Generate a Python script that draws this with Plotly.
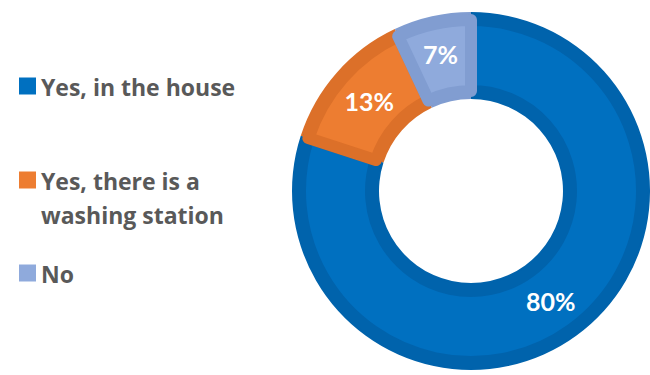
import plotly.graph_objects as go

# Survey answers and their shares (%)
categories = ["Yes, in the house", "Yes, there is a<br>washing station", "No"]
shares = [80, 13, 7]

fill_colors = ["#0070C0", "#ED7D31", "#8FAADC"]
edge_colors = ["#0063AC", "#DC7029", "#819DD1"]

W, H = 650, 375
cx, cy = 471, 191          # donut centre (px)
r_out, r_in = 179, 92      # outer / inner radius (px)
band = 8                   # width of the darker rim inside each slice


def dom(r):
    return dict(x=[(cx - r) / W, (cx + r) / W],
                y=[1 - (cy + r) / H, 1 - (cy - r) / H])


fig = go.Figure()

# darker rim layer
fig.add_trace(go.Pie(
    values=shares, labels=categories, sort=False, direction="clockwise",
    rotation=0, hole=r_in / r_out, domain=dom(r_out),
    marker=dict(colors=edge_colors, line=dict(width=0)),
    textinfo="none", hoverinfo="skip", showlegend=False,
))

# lighter inner fill layer with labels
r2 = r_out - band
fig.add_trace(go.Pie(
    values=shares, labels=categories, sort=False, direction="clockwise",
    rotation=0, hole=(r_in + band) / r2, domain=dom(r2),
    marker=dict(colors=fill_colors, line=dict(color=edge_colors, width=12)),
    texttemplate="%{value}%", textposition="inside",
    insidetextorientation="horizontal",
    textfont=dict(family="Lato", size=25, color="white", weight="bold"),
    hoverinfo="label+value", showlegend=False,
))

# legend drawn at the left: square swatch + bold grey text
legend_rows = [86, 180, 273]   # vertical centre of first text line (px)
line_gap = 34
shapes, annotations = [], []
for name, color, yc in zip(categories, fill_colors, legend_rows):
    shapes.append(dict(type="rect", xref="paper", yref="paper",
                       x0=19 / W, x1=36 / W,
                       y0=1 - (yc + 8.5) / H, y1=1 - (yc - 8.5) / H,
                       fillcolor=color, line=dict(width=0)))
    for i, line in enumerate(name.split("<br>")):
        annotations.append(dict(
            text=line, xref="paper", yref="paper",
            x=39 / W, y=1 - (yc + i * line_gap + 1) / H,
            xanchor="left", yanchor="middle", showarrow=False,
            font=dict(family="Open Sans", size=23, color="#595959", weight="bold"),
        ))

fig.update_layout(
    width=W, height=H, margin=dict(l=0, r=0, t=0, b=0),
    paper_bgcolor="white", plot_bgcolor="white",
    shapes=shapes, annotations=annotations,
)

fig.write_html("out.html")
